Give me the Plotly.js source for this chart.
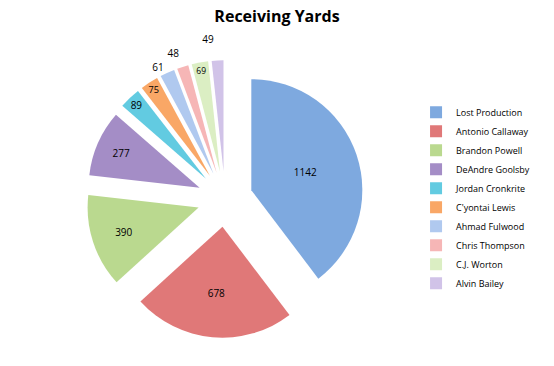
<!DOCTYPE html>
<html><head><meta charset="utf-8">
<script src="https://cdn.plot.ly/plotly-3.0.1.min.js"></script>
<style>html,body{margin:0;padding:0;background:#fff}#chart{width:554px;height:366px}path.textline{display:none}</style>
</head><body><div id="chart"></div>
<script>
const players = ["Lost Production","Antonio Callaway","Brandon Powell","DeAndre Goolsby","Jordan Cronkrite","C'yontai Lewis","Ahmad Fulwood","Chris Thompson","C.J. Worton","Alvin Bailey"];
const yards = [1142,678,390,277,89,75,61,48,69,49];
const colors = ["#7ea9df","#e07878","#bad98f","#a48dc6","#62cbe1","#f9a766","#b0c9ef","#f6b6b6","#dbeec3","#d1c3e8"];
const labelPos = ["inside","inside","inside","inside","inside","inside","outside","outside","inside","outside"];
const trace = {
  type:"pie", labels:players, values:yards, sort:false, direction:"clockwise", rotation:0,
  marker:{colors:colors, line:{color:"#ffffff", width:0}},
  pull:0.25, textinfo:"value",
  textposition:labelPos,
  insidetextorientation:"horizontal",
  textfont:{family:"Open Sans, sans-serif", size:10, color:"#000"},
  outsidetextfont:{family:"Open Sans, sans-serif", size:10, color:"#000"},
  domain:{x:[0.1354,0.6769], y:[0.0772,0.8354]},
  hoverinfo:"label+value"
};
const layout = {
  width:554, height:366, margin:{l:0,r:0,t:0,b:0},
  paper_bgcolor:"#fff",
  title:{text:"<b>Receiving Yards</b>", x:0.5, xanchor:"center", y:0.971, yanchor:"top", font:{family:"Open Sans, sans-serif", size:16, color:"#000"}},
  showlegend:true,
  legend:{x:0.751, y:0.733, xanchor:"left", yanchor:"top", font:{family:"Open Sans, sans-serif", size:9, color:"#000"}, itemwidth:30}
};
Plotly.newPlot("chart",[trace],layout,{displayModeBar:false});
</script></body></html>
